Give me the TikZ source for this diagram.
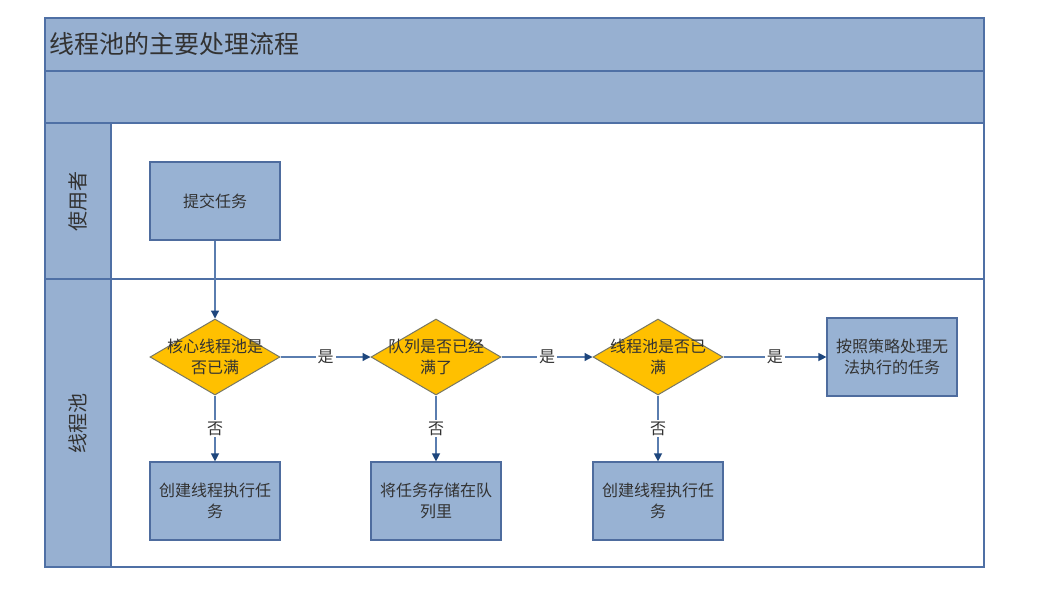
\documentclass[tikz,border=0pt]{standalone}
\usepackage{fontspec}
\newfontfamily\cjk{Noto Sans CJK SC}
\usetikzlibrary{arrows.meta,shapes.geometric}
\definecolor{bandfill}{RGB}{151,176,209}
\definecolor{frameblue}{RGB}{79,112,165}
\definecolor{boxfill}{RGB}{152,178,211}
\definecolor{boxline}{RGB}{78,108,158}
\definecolor{dfill}{RGB}{255,192,0}
\definecolor{dline}{RGB}{120,120,100}
\definecolor{lineblue}{RGB}{90,125,175}
\definecolor{headblue}{RGB}{30,70,125}
\definecolor{txt}{RGB}{50,50,50}
\begin{document}
\begin{tikzpicture}[x=1pt,y=-1pt,
  frame/.style={draw=frameblue,line width=1.6pt},
  procbox/.style={draw=boxline,line width=1.2pt,fill=boxfill,minimum width=130pt,minimum height=78pt,inner sep=0pt,align=center,font=\cjk\fontsize{16}{21}\selectfont,text=txt},
  decide/.style={diamond,draw=dline,line width=1pt,fill=dfill,minimum width=130pt,minimum height=76pt,inner sep=0pt},
  dtext/.style={align=center,font=\cjk\fontsize{16}{21}\selectfont,text=txt},
  arr/.style={draw=lineblue,line width=1.3pt,-{Triangle[length=8pt,width=8pt,color=headblue]}},
  lbl/.style={fill=white,inner sep=2pt,font=\cjk\fontsize{16}{18}\selectfont,text=txt},
  lanelbl/.style={rotate=90,font=\cjk\fontsize{20}{22}\selectfont,text=txt}
]
\useasboundingbox (0,0) rectangle (1047,592);
\fill[white] (0,0) rectangle (1047,592);
% pool frame
\draw[frame,fill=bandfill] (45,18) rectangle (984,71);
\draw[frame,fill=bandfill] (45,71) rectangle (984,123);
\draw[frame,fill=bandfill] (45,123) rectangle (111,279);
\draw[frame,fill=bandfill] (45,279) rectangle (111,567);
\draw[frame] (111,123) rectangle (984,279);
\draw[frame] (111,279) rectangle (984,567);
\node[anchor=west,font=\cjk\fontsize{25}{27}\selectfont,text=txt] (title) at (46,44) {线程池的主要处理流程};
\node[lanelbl] (lane1) at (78,201) {使用者};
\node[lanelbl] (lane2) at (78,423) {线程池};
% nodes
\node[procbox] (submit) at (215,201) {提交任务};
\node[decide,label={[dtext]center:核心线程池是\\否已满}] (d1) at (215,357) {};
\node[decide,label={[dtext]center:队列是否已经\\满了}] (d2) at (436,357) {};
\node[decide,label={[dtext]center:线程池是否已\\满}] (d3) at (658,357) {};
\node[procbox] (reject) at (892,357) {按照策略处理无\\法执行的任务};
\node[procbox] (b1) at (215,501) {创建线程执行任\\务};
\node[procbox] (b2) at (436,501) {将任务存储在队\\列里};
\node[procbox] (b3) at (658,501) {创建线程执行任\\务};
% connectors
\draw[arr] (submit) -- (d1);
\draw[arr] (d1) -- node[lbl]{是} (d2);
\draw[arr] (d2) -- node[lbl]{是} (d3);
\draw[arr] (d3) -- node[lbl]{是} (reject);
\draw[arr] (d1) -- node[lbl]{否} (b1);
\draw[arr] (d2) -- node[lbl]{否} (b2);
\draw[arr] (d3) -- node[lbl]{否} (b3);
\end{tikzpicture}
\end{document}
